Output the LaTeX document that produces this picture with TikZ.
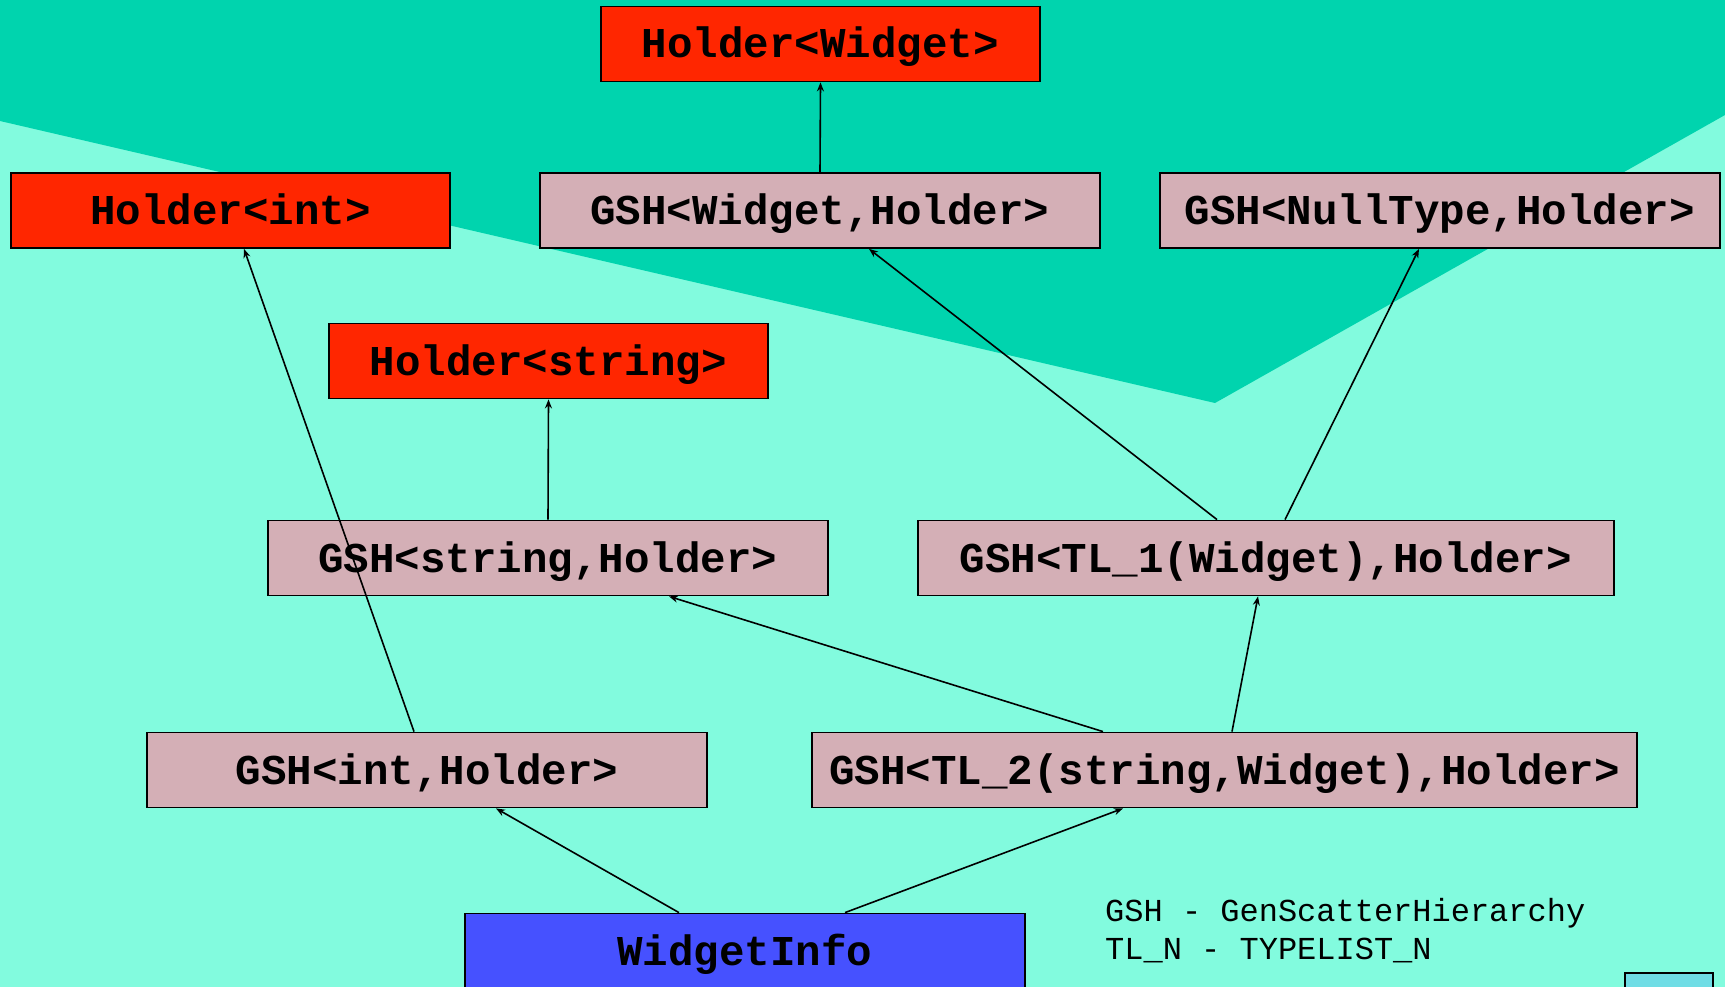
\documentclass[tikz,border=0pt]{standalone}
\usepackage{fontspec}
\setmonofont{Liberation Mono}
\usetikzlibrary{arrows.meta}
\definecolor{bglight}{HTML}{82FBDE}
\definecolor{bgdark}{HTML}{00D4AE}
\definecolor{holderred}{HTML}{FF2600}
\definecolor{gshpink}{HTML}{D4AFB6}
\definecolor{infoblue}{HTML}{4651FF}
\definecolor{cornercyan}{HTML}{6FDDE5}
\tikzset{
  box/.style={draw=black, line width=1.8pt, inner sep=0pt, minimum height=75pt,
    text height=36pt, text depth=8pt,
    font=\fontsize{42.5}{50}\selectfont\ttfamily\bfseries, text=black},
  holder/.style={box, fill=holderred, minimum width=439pt},
  gsh/.style={box, fill=gshpink},
  info/.style={box, fill=infoblue, minimum width=560pt},
  arr/.style={draw=black, line width=1.6pt, -{Stealth[length=9pt,width=7pt]}},
  legend/.style={anchor=base west, inner sep=0pt, font=\fontsize{32}{38}\selectfont\ttfamily, text=black}
}
\begin{document}
\begin{tikzpicture}[x=1pt,y=-1pt]
\clip (0,0) rectangle (1725,987);
\fill[bglight] (0,0) rectangle (1725,987);
\fill[bgdark] (0,0) -- (1725,0) -- (1725,115) -- (1215,403) -- (0,121) -- cycle;

\node[holder] (hw) at (820.5,44) {Holder<Widget>};
\node[holder] (hi) at (230.5,210.5) {Holder<int>};
\node[gsh, minimum width=560pt] (gw) at (820,210.5) {GSH<Widget,Holder>};
\node[gsh, minimum width=560pt] (gn) at (1440,210.5) {GSH<NullType,Holder>};
\node[holder] (hs) at (548.5,361) {Holder<string>};
\node[gsh, minimum width=560pt] (gs) at (548,558) {GSH<string,Holder>};
\node[gsh, minimum width=696pt] (g1) at (1266,558) {GSH<TL\_1(Widget),Holder>};
\node[gsh, minimum width=560pt] (gi) at (427,770) {GSH<int,Holder>};
\node[gsh, minimum width=825pt] (g2) at (1224.5,770) {GSH<TL\_2(string,Widget),Holder>};
\node[info] (wi) at (745,951) {WidgetInfo};
\node[draw=black, line width=1.8pt, fill=cornercyan, minimum width=88pt, minimum height=60pt, inner sep=0pt] (corner) at (1669,1003) {};

\node[legend] (leg1) at (1105,921) {GSH - GenScatterHierarchy};
\node[legend] (leg2) at (1105,959) {TL\_N - TYPELIST\_N};

\draw[arr] (gw.north) -- (hw.south);
\draw[arr] ([xshift=-13pt]gi.north) -- ([xshift=13.5pt]hi.south);
\draw[arr] (gs.north) -- (hs.south);
\draw[arr] ([xshift=-49pt]g1.north) -- ([xshift=49pt]gw.south);
\draw[arr] ([xshift=19pt]g1.north) -- ([xshift=-21pt]gn.south);
\draw[arr] ([xshift=-121.5pt]g2.north) -- ([xshift=121pt]gs.south);
\draw[arr] ([xshift=7.5pt]g2.north) -- ([xshift=-8pt]g1.south);
\draw[arr] ([xshift=-66pt]wi.north) -- ([xshift=69pt]gi.south);
\draw[arr] ([xshift=100pt]wi.north) -- ([xshift=-101.5pt]g2.south);
\end{tikzpicture}
\end{document}
